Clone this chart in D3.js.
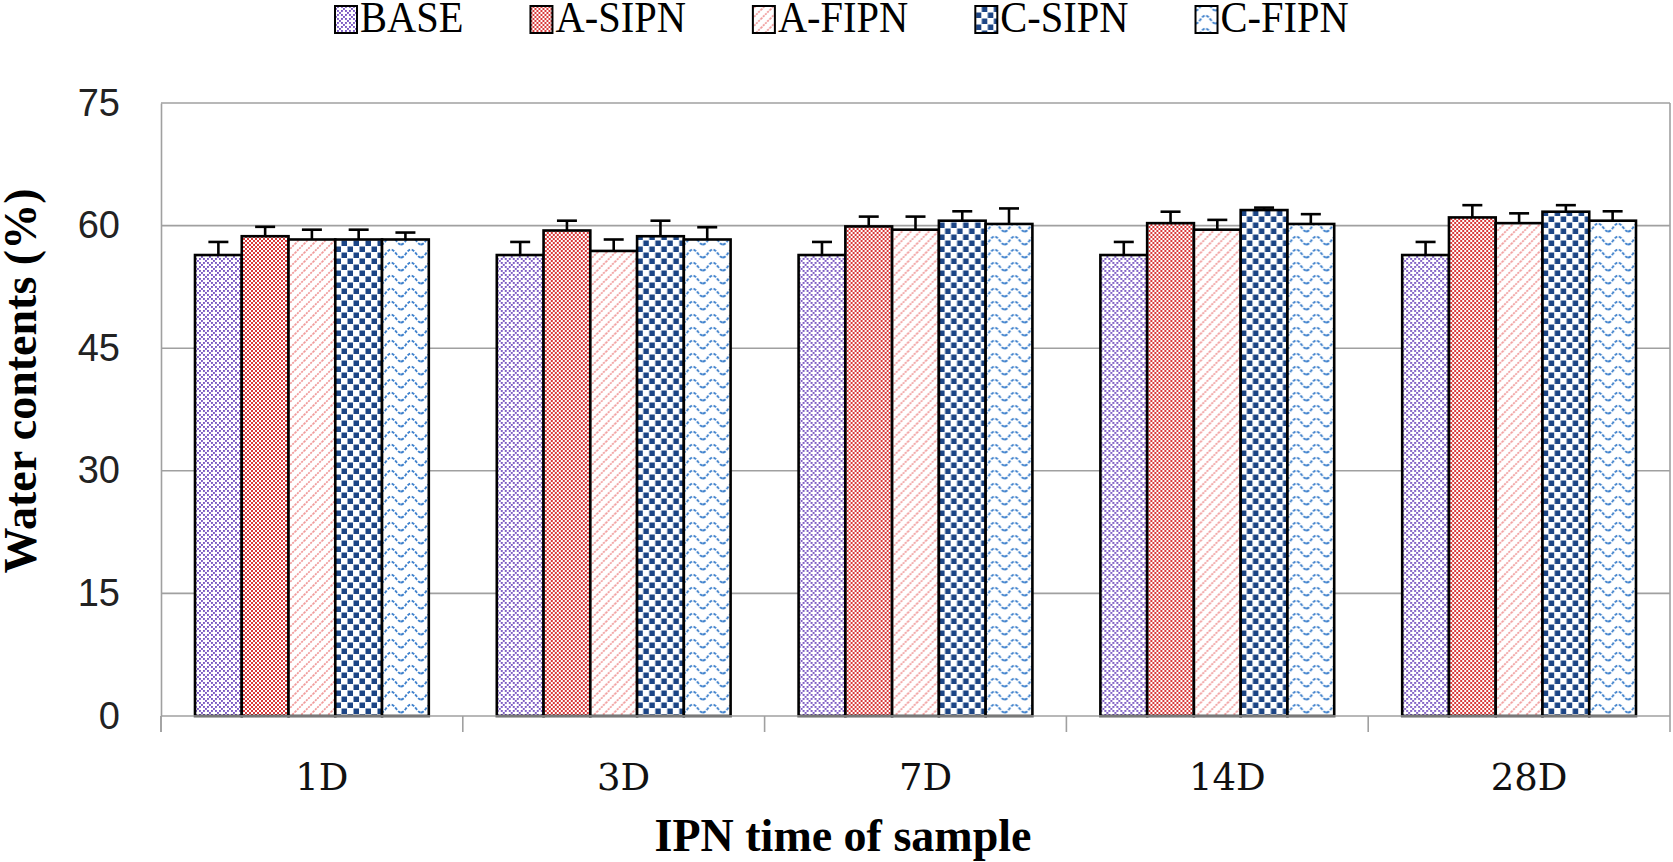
<!DOCTYPE html>
<html>
<head>
<meta charset="utf-8">
<script src="https://cdn.jsdelivr.net/npm/d3@7"></script>
<style>
  html, body { margin: 0; padding: 0; background: #fff; }
  svg { display: block; }
</style>
</head>
<body>
<svg id="chart" width="1673" height="862"></svg>
<script>
// ---- data ----
const categories = ["1D", "3D", "7D", "14D", "28D"];
const seriesNames = ["BASE", "A-SIPN", "A-FIPN", "C-SIPN", "C-FIPN"];
const baseValues  = [56.4, 56.4, 56.4, 56.4, 56.4];
const aSipnValues = [58.7, 59.4, 59.9, 60.3, 61.0];
const aFipnValues = [58.3, 56.9, 59.5, 59.5, 60.3];
const cSipnValues = [58.3, 58.7, 60.6, 61.9, 61.7];
const cFipnValues = [58.3, 58.3, 60.2, 60.2, 60.6];
const baseErr  = [1.6, 1.6, 1.6, 1.6, 1.6];
const aSipnErr = [1.15, 1.2, 1.2, 1.4, 1.5];
const aFipnErr = [1.2, 1.4, 1.6, 1.2, 1.2];
const cSipnErr = [1.2, 1.9, 1.15, 0.3, 0.8];
const cFipnErr = [0.85, 1.5, 1.9, 1.2, 1.15];
const yTicks = [0, 15, 30, 45, 60, 75];
const xTitle = "IPN time of sample";
const yTitle = "Water contents (%)";

const seriesValues = [baseValues, aSipnValues, aFipnValues, cSipnValues, cFipnValues];
const seriesErrors = [baseErr, aSipnErr, aFipnErr, cSipnErr, cFipnErr];

// ---- layout ----
const plot = { left: 161, right: 1670, top: 103, bottom: 716 };
const svg = d3.select("#chart");

const x0 = d3.scaleBand().domain(categories).range([plot.left, plot.right]).padding(0);
const x1 = d3.scaleBand().domain(seriesNames).range([34, x0.bandwidth() - 34]).padding(0);
const y = d3.scaleLinear().domain([0, 75]).range([plot.bottom, plot.top]);

// ---- patterns ----
const defs = svg.append("defs");
const patIds = ["p-base", "p-asipn", "p-afipn", "p-csipn", "p-cfipn"];

// BASE: purple dotted lattice
{
  const p = defs.append("pattern").attr("id", "p-base").attr("patternUnits", "userSpaceOnUse")
    .attr("width", 8).attr("height", 8);
  p.append("rect").attr("width", 8).attr("height", 8).attr("fill", "#fff");
  const pts = [[0,0],[2,2],[4,4],[6,6],[2,6],[6,2]];
  pts.forEach(([a,b]) => p.append("rect").attr("x", a).attr("y", b).attr("width", 1.9).attr("height", 1.9).attr("fill", "#7a58c2"));
}
// A-SIPN: red fine checker
{
  const p = defs.append("pattern").attr("id", "p-asipn").attr("patternUnits", "userSpaceOnUse")
    .attr("width", 4).attr("height", 4);
  p.append("rect").attr("width", 4).attr("height", 4).attr("fill", "#fff");
  p.append("rect").attr("x", 0).attr("y", 0).attr("width", 2).attr("height", 2).attr("fill", "#d83a3a");
  p.append("rect").attr("x", 2).attr("y", 2).attr("width", 2).attr("height", 2).attr("fill", "#d83a3a");
}
// A-FIPN: light red diagonals
{
  const p = defs.append("pattern").attr("id", "p-afipn").attr("patternUnits", "userSpaceOnUse")
    .attr("width", 9).attr("height", 9);
  p.append("rect").attr("width", 9).attr("height", 9).attr("fill", "#fff");
  p.append("path").attr("d", "M-1,10 L10,-1 M-1,1 L1,-1 M8,10 L10,8")
    .attr("stroke", "#f09a9a").attr("stroke-width", 1.7).attr("stroke-dasharray", "2 1");
}
// C-SIPN: dark blue checker
{
  const p = defs.append("pattern").attr("id", "p-csipn").attr("patternUnits", "userSpaceOnUse")
    .attr("width", 12).attr("height", 12);
  p.append("rect").attr("width", 12).attr("height", 12).attr("fill", "#fff");
  p.append("rect").attr("x", 0.5).attr("y", 0.5).attr("width", 5.5).attr("height", 5.5).attr("fill", "#1c4585");
  p.append("rect").attr("x", 6.5).attr("y", 6.5).attr("width", 5.5).attr("height", 5.5).attr("fill", "#1c4585");
}
// C-FIPN: light blue dashed waves
{
  const p = defs.append("pattern").attr("id", "p-cfipn").attr("patternUnits", "userSpaceOnUse")
    .attr("width", 20).attr("height", 13);
  p.append("rect").attr("width", 20).attr("height", 13).attr("fill", "#fff");
  p.append("path").attr("d", "M0,10.5 C4,10.5 6,2.5 10,2.5 C14,2.5 16,10.5 20,10.5")
    .attr("fill", "none").attr("stroke", "#3d80cc").attr("stroke-width", 1.9).attr("stroke-dasharray", "3 1.6");
}

// ---- gridlines ----
svg.append("g").selectAll("line").data(yTicks.filter(t => t > 0)).join("line")
  .attr("x1", plot.left).attr("x2", plot.right)
  .attr("y1", d => y(d)).attr("y2", d => y(d))
  .attr("stroke", "#a0a0a0").attr("stroke-width", 1.6);

// plot border (right side)
svg.append("line").attr("x1", plot.right).attr("x2", plot.right)
  .attr("y1", plot.top).attr("y2", plot.bottom)
  .attr("stroke", "#a0a0a0").attr("stroke-width", 1.6);

// ---- y axis ----
const yAxis = d3.axisLeft(y).tickValues(yTicks).tickSize(0).tickPadding(41);
const gy = svg.append("g").attr("transform", `translate(${plot.left},0)`).call(yAxis);
gy.select(".domain").attr("stroke", "#a0a0a0").attr("stroke-width", 1.6);
gy.selectAll("text").attr("font-family", "'Liberation Sans', Arial, sans-serif")
  .attr("font-size", 38).attr("fill", "#222");
svg.append("line").attr("x1", plot.left).attr("x2", plot.left)
  .attr("y1", plot.bottom).attr("y2", plot.bottom + 16)
  .attr("stroke", "#a0a0a0").attr("stroke-width", 1.6);

// ---- bars ----
const groups = svg.append("g").selectAll("g").data(categories).join("g")
  .attr("transform", d => `translate(${x0(d)},0)`);

groups.each(function(cat, ci) {
  const g = d3.select(this);
  const rows = seriesNames.map((s, si) => ({ s, si, v: seriesValues[si][ci], e: seriesErrors[si][ci] }));
  g.selectAll("rect").data(rows).join("rect")
    .attr("x", d => x1(d.s))
    .attr("y", d => y(d.v))
    .attr("width", x1.bandwidth())
    .attr("height", d => y(0) - y(d.v))
    .attr("fill", d => `url(#${patIds[d.si]})`)
    .attr("stroke", "#000").attr("stroke-width", 2.6);
  const eb = g.selectAll("g.err").data(rows).join("g").attr("class", "err");
  eb.append("line")
    .attr("x1", d => x1(d.s) + x1.bandwidth() / 2).attr("x2", d => x1(d.s) + x1.bandwidth() / 2)
    .attr("y1", d => y(d.v)).attr("y2", d => y(d.v + d.e))
    .attr("stroke", "#000").attr("stroke-width", 2.6);
  eb.append("line")
    .attr("x1", d => x1(d.s) + x1.bandwidth() / 2 - 10).attr("x2", d => x1(d.s) + x1.bandwidth() / 2 + 10)
    .attr("y1", d => y(d.v + d.e)).attr("y2", d => y(d.v + d.e))
    .attr("stroke", "#000").attr("stroke-width", 2.6);
});

// ---- x axis ----
const gx = svg.append("g").attr("transform", `translate(0,${plot.bottom})`)
  .call(d3.axisBottom(x0).tickSize(0).tickPadding(0).tickFormat(""));
gx.select(".domain").remove();
gx.append("line").attr("x1", plot.left).attr("x2", plot.right).attr("y1", 0).attr("y2", 0)
  .attr("stroke", "#a0a0a0").attr("stroke-width", 1.6);
const boundaries = categories.map(c => x0(c)).concat([plot.right]);
gx.selectAll("line.bt").data(boundaries).join("line").attr("class", "bt")
  .attr("x1", d => d).attr("x2", d => d).attr("y1", 0).attr("y2", 16)
  .attr("stroke", "#a0a0a0").attr("stroke-width", 1.6);
gx.selectAll("text.cl").data(categories).join("text").attr("class", "cl")
  .attr("x", d => x0(d) + x0.bandwidth() / 2 + 10)
  .attr("y", 74)
  .attr("text-anchor", "middle")
  .attr("font-family", "'DejaVu Serif', serif")
  .attr("font-size", 37).attr("fill", "#111")
  .text(d => d);

// ---- titles ----
svg.append("text").attr("x", 843).attr("y", 851).attr("text-anchor", "middle")
  .attr("font-family", "'Liberation Serif', 'Times New Roman', serif")
  .attr("font-weight", "bold").attr("font-size", 46).attr("fill", "#000")
  .text(xTitle);

svg.append("text").attr("transform", "translate(36,381) rotate(-90)").attr("text-anchor", "middle")
  .attr("font-family", "'Liberation Serif', 'Times New Roman', serif")
  .attr("font-weight", "bold").attr("font-size", 46).attr("fill", "#000")
  .text(yTitle);

// ---- legend (flow layout) ----
const legend = svg.append("g");
let lx = 335;
seriesNames.forEach((name, i) => {
  const item = legend.append("g");
  item.append("rect").attr("x", 0).attr("y", 6).attr("width", 22).attr("height", 27)
    .attr("fill", `url(#${patIds[i]})`).attr("stroke", "#000").attr("stroke-width", 2);
  const t = item.append("text").attr("transform", "translate(25,32) scale(0.92,1)")
    .attr("font-family", "'Liberation Serif', 'Times New Roman', serif")
    .attr("font-size", 44).attr("fill", "#000")
    .text(name);
  const w = t.node().getComputedTextLength() * 0.92;
  item.attr("transform", `translate(${lx},0)`);
  lx += 25 + w + 67;
});
</script>
</body>
</html>
